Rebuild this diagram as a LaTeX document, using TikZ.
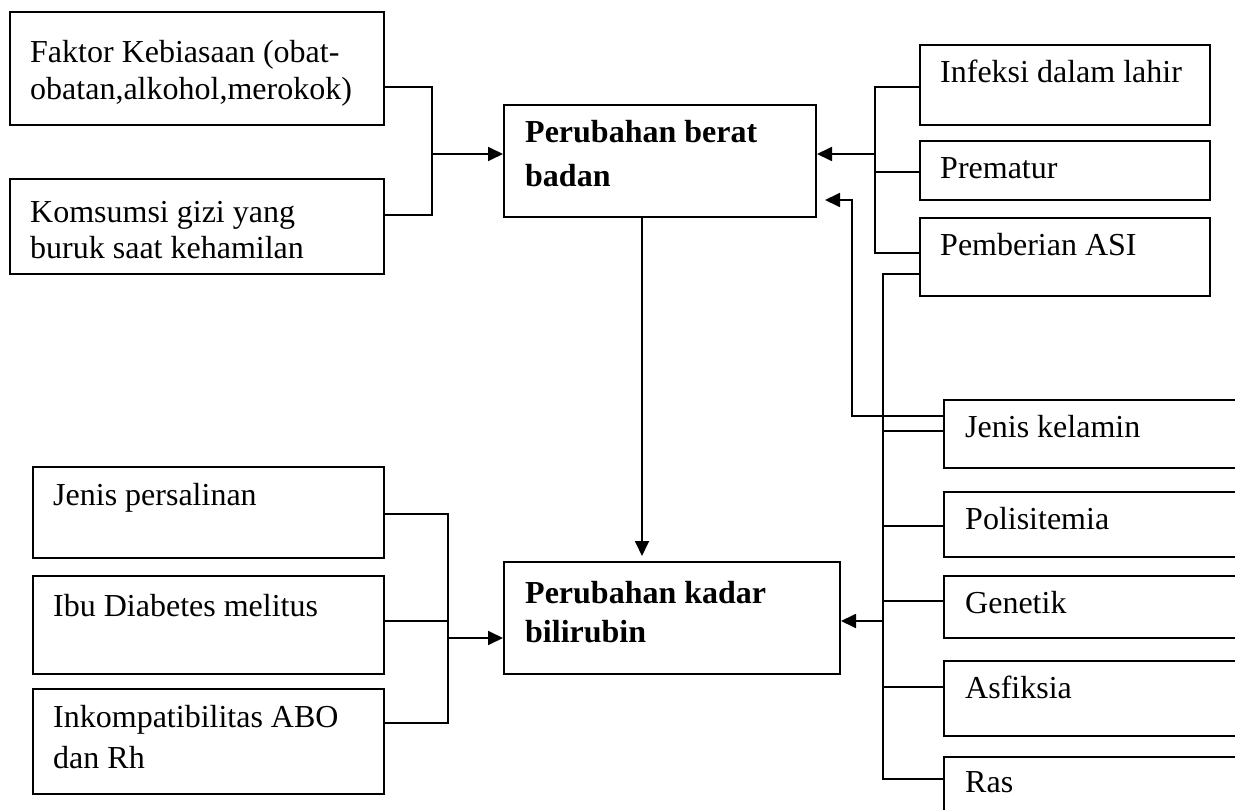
\documentclass[tikz,border=0pt]{standalone}
\usepackage{fontspec}
\setmainfont[Ligatures=NoCommon]{Liberation Serif}
\usetikzlibrary{arrows.meta}
\newcommand\twolines[3]{\vtop{\baselineskip=#1\relax\hbox{#2}\hbox{#3}}}
\begin{document}
\begin{tikzpicture}[x=1pt,y=-1pt,
  box/.style={draw,line width=2pt,inner sep=0pt,anchor=north west},
  txt/.style={anchor=base west,inner sep=0pt,font=\fontsize{32}{37}\selectfont},
  ln/.style={line width=1.8pt},
  arr/.style={ln,-{Triangle[length=15pt,width=14pt]}}]
\clip (0,0) rectangle (1235,810);
% boxes
\node[box,minimum width=374pt,minimum height=113pt] (fak) at (9,11) {};
\node[box,minimum width=374pt,minimum height=95pt] (kom) at (9,178) {};
\node[box,minimum width=312pt,minimum height=112pt] (pbb) at (503,104) {};
\node[box,minimum width=336pt,minimum height=112pt] (pkb) at (503,561) {};
\node[box,minimum width=290pt,minimum height=80pt] (inf) at (919,44) {};
\node[box,minimum width=290pt,minimum height=59pt] (pre) at (919,140) {};
\node[box,minimum width=290pt,minimum height=78pt] (asi) at (919,217) {};
\node[box,minimum width=320pt,minimum height=68pt] (jk) at (943,399) {};
\node[box,minimum width=320pt,minimum height=65pt] (pol) at (943,491) {};
\node[box,minimum width=320pt,minimum height=62pt] (gen) at (943,575) {};
\node[box,minimum width=320pt,minimum height=75pt] (asf) at (943,660) {};
\node[box,minimum width=320pt,minimum height=80pt] (ras) at (943,756) {};
\node[box,minimum width=351pt,minimum height=91pt] (jp) at (32,466) {};
\node[box,minimum width=351pt,minimum height=98pt] (ibu) at (32,575) {};
\node[box,minimum width=351pt,minimum height=105pt] (ink) at (32,688) {};
% texts
\node[txt] (fakt) at (30,63) {\twolines{37pt}{Faktor Kebiasaan (obat-}{obatan,alkohol,merokok)}};
\node[txt] (komt) at (30,223) {\twolines{36pt}{Komsumsi gizi yang}{buruk saat kehamilan}};
\node[txt] (pbbt) at (525,143) {\bfseries\twolines{44pt}{Perubahan berat}{badan}};
\node[txt] (pkbt) at (525,603) {\bfseries\twolines{39pt}{Perubahan kadar}{bilirubin}};
\node[txt] (inft) at (940,83) {Infeksi dalam lahir};
\node[txt] (pret) at (940,179) {Prematur};
\node[txt] (asit) at (940,256) {Pemberian ASI};
\node[txt] (jkt) at (965,437) {Jenis kelamin};
\node[txt] (polt) at (965,529) {Polisitemia};
\node[txt] (gent) at (965,613) {Genetik};
\node[txt] (asft) at (965,698) {Asfiksia};
\node[txt] (rast) at (965,792) {Ras};
\node[txt] (jpt) at (53,505) {Jenis persalinan};
\node[txt] (ibut) at (53,616) {Ibu Diabetes melitus};
\node[txt] (inkt) at (53,727) {\twolines{41pt}{Inkompatibilitas ABO}{dan Rh}};
% junction coordinates
\coordinate (lt1) at (432,87);
\coordinate (lt2) at (432,215);
\coordinate (lt3) at (432,154);
\coordinate (rt1) at (875,87);
\coordinate (rt2) at (875,172);
\coordinate (rt3) at (875,253);
\coordinate (rt4) at (875,154);
\coordinate (rb1) at (883,274);
\coordinate (rb2) at (883,431);
\coordinate (rb3) at (883,526);
\coordinate (rb4) at (883,601);
\coordinate (rb5) at (883,687);
\coordinate (rb6) at (883,779);
\coordinate (rb7) at (883,621);
\coordinate (rj1) at (852,416);
\coordinate (rj2) at (852,200);
\coordinate (lb1) at (448,514);
\coordinate (lb2) at (448,621);
\coordinate (lb3) at (448,723);
\coordinate (lb4) at (448,638);
\coordinate (va) at (642,0);
% connectors
\draw[ln] (lt1 -| fak.east) -- (lt1) -- (lt2) -- (lt2 -| kom.east);
\draw[arr] (lt3) -- (lt3 -| pbb.west);
\draw[ln] (rt1 -| inf.west) -- (rt1) -- (rt3) -- (rt3 -| asi.west);
\draw[ln] (rt2) -- (rt2 -| pre.west);
\draw[arr] (rt4) -- (rt4 -| pbb.east);
\draw[ln] (rb1 -| asi.west) -- (rb1) -- (rb6) -- (rb6 -| ras.west);
\draw[ln] (rb2) -- (rb2 -| jk.west);
\draw[ln] (rb3) -- (rb3 -| pol.west);
\draw[ln] (rb4) -- (rb4 -| gen.west);
\draw[ln] (rb5) -- (rb5 -| asf.west);
\draw[arr] (rb7) -- (rb7 -| pkb.east);
\draw[arr,shorten >=8pt] (rj1 -| jk.west) -- (rj1) -- (rj2) -- (rj2 -| pbb.east);
\draw[ln] (lb1 -| jp.east) -- (lb1) -- (lb3) -- (lb3 -| ink.east);
\draw[ln] (lb2) -- (lb2 -| ibu.east);
\draw[arr] (lb4) -- (lb4 -| pkb.west);
\draw[arr,shorten >=5pt] (va |- pbb.south) -- (va |- pkb.north);
\end{tikzpicture}
\end{document}
